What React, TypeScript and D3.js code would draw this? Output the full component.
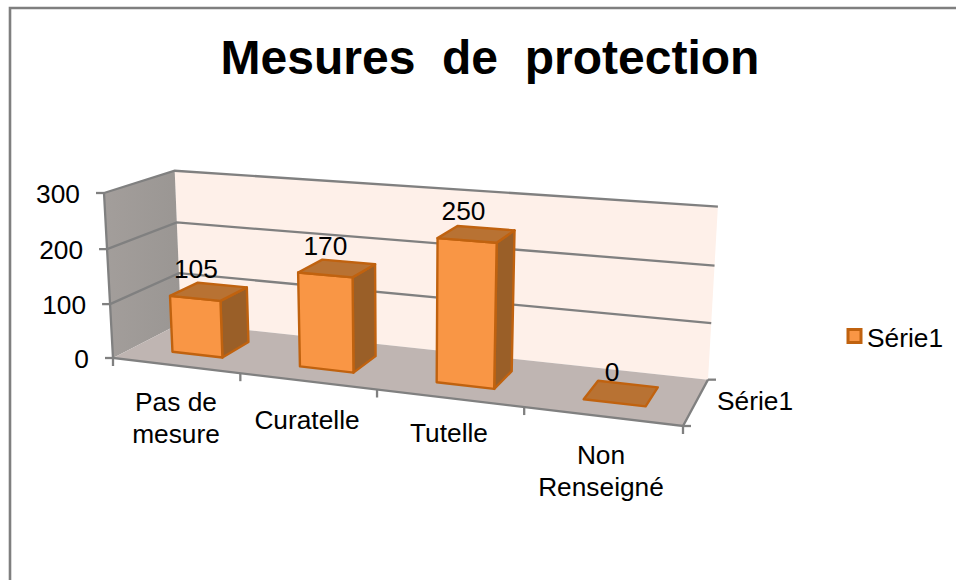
import React from "react";
import * as d3 from "d3";

const categories = [["Pas de", "mesure"], ["Curatelle"], ["Tutelle"], ["Non", "Renseigné"]];
const values = [105, 170, 250, 0];
const valueTicks = [0, 100, 200, 300];
const seriesName = "Série1";
const titleText = "Mesures  de  protection";

type P = [number, number];
const p0: P = [113, 358], p1: P = [683, 426], p3: P = [181, 323];
const backRightX = 708;
const G = -0.137, CW = -0.03;
const frontLeftTop: P = [104, 193];
const H_ = ((p1[0] - backRightX) * (1 + G) + p3[0] - p0[0]) / (backRightX - p3[0]);
const a = p1[0] * (1 + G) - p0[0], b = p3[0] * (1 + H_) - p0[0];
const d = p1[1] * (1 + G) - p0[1], e = p3[1] * (1 + H_) - p0[1];
const cx = frontLeftTop[0] * (1 + CW) - p0[0], cy = frontLeftTop[1] * (1 + CW) - p0[1];

const uScale = d3.scaleLinear().domain([0, 4]).range([0, 1]);
const vScale = d3.scaleLinear().domain([0, 300]).range([0, 1]);
function proj(cat: number, depth: number, val: number): P {
  const u = uScale(cat), t = vScale(val);
  const w = 1 + G * u + H_ * depth + CW * t;
  return [(p0[0] + a * u + b * depth + cx * t) / w, (p0[1] + d * u + e * depth + cy * t) / w];
}
const line = d3.line<P>();
const poly = (pts: P[]) => line(pts)! + "Z";

const GRID = "#808080";
const GW = 2.3;
const EDGE = "#C0620F";
const FONT = "'Liberation Sans', Arial, sans-serif";
const BAR_HALF = 0.2, D0 = 0.29, D1 = 0.71, BAR_SHIFT = 0.516;
const LABEL_NUDGE: P[] = [[-2, -5], [3, -5], [6, -6], [14, 0]];
const FS = 26.3;

export default function App() {
  return (
    <svg width={956} height={580} style={{ position: "absolute", left: 0, top: 0, background: "#fff" }} fontFamily={FONT}>
      <defs>
        <linearGradient id="wallL" x1="0" x2="1" y1="0" y2="0">
          <stop offset="0" stopColor="#A39E9B" />
          <stop offset="1" stopColor="#9A9693" />
        </linearGradient>
      </defs>
      <path d="M10,580V8H956" fill="none" stroke="#7F7F7F" strokeWidth={2.6} />
      <text x={490} y={74} fontSize={48} fontWeight="bold" textAnchor="middle" xmlSpace="preserve" style={{ whiteSpace: "pre" }}>{titleText}</text>

      <path d={poly([proj(0, 1, 0), proj(4, 1, 0), proj(4, 1, 300), proj(0, 1, 300)])} fill="#FEF0E9" />
      <path d={poly([proj(0, 0, 0), proj(0, 1, 0), proj(0, 1, 300), proj(0, 0, 300)])} fill="url(#wallL)" />
      <path d={poly([proj(0, 0, 0), proj(4, 0, 0), proj(4, 1, 0), proj(0, 1, 0)])} fill="#BFB5B2" />

      {valueTicks.filter((t) => t > 0).map((t) => (
        <path key={t} fill="none" stroke={GRID} strokeWidth={GW}
          d={line([proj(0, 0, t), proj(0, 1, t), proj(4, 1, t)])!} />
      ))}
      <path fill="none" stroke={GRID} strokeWidth={GW} d={line([proj(0, 0, 300), proj(0, 0, 0), proj(4, 0, 0), proj(4, 1, 0)])!} />
      {valueTicks.map((t) => {
        const p = proj(0, 0, t);
        return <path key={t} stroke={GRID} strokeWidth={GW} d={`M${p[0] - 8},${p[1]}H${p[0]}`} />;
      })}
      {d3.range(0, 5).map((i) => {
        const p = proj(i, 0, 0);
        return <path key={i} stroke={GRID} strokeWidth={GW} d={`M${p[0]},${p[1]}v8`} />;
      })}
      <path stroke={GRID} strokeWidth={GW} d={`M${proj(4, 1, 0)[0]},${proj(4, 1, 0)[1]}h8`} />
      <path stroke={GRID} strokeWidth={GW} d={`M${proj(4, 0, 0)[0]},${proj(4, 0, 0)[1]}h8`} />

      {values.map((v, i) => {
        const l = i + BAR_SHIFT - BAR_HALF, r = i + BAR_SHIFT + BAR_HALF;
        const flt = proj(l, D0, v), frt = proj(r, D0, v), flb = proj(l, D0, 0), frb = proj(r, D0, 0);
        const blt = proj(l, D1, v), brt = proj(r, D1, v), brb = proj(r, D1, 0);
        return (
          <g key={i} stroke={EDGE} strokeWidth={2.4} strokeLinejoin="round">
            {v > 0 && <path d={poly([frt, brt, brb, frb])} fill="#9A5F28" />}
            {v > 0 && <path d={poly([flt, frt, frb, flb])} fill="#F99645" />}
            <path d={poly([flt, frt, brt, blt])} fill="#B87233" />
          </g>
        );
      })}

      {values.map((v, i) => {
        const p = proj(i + BAR_SHIFT - BAR_HALF, D1, v);
        return <text key={i} x={p[0] + LABEL_NUDGE[i][0]} y={p[1] + LABEL_NUDGE[i][1]} fontSize={FS} textAnchor="middle">{v}</text>;
      })}

      {valueTicks.map((t) => {
        const p = proj(0, 0, t);
        return <text key={t} x={p[0] - 24} y={p[1] + 10} fontSize={FS} textAnchor="end">{t}</text>;
      })}
      {categories.map((c, i) => {
        const xs = [176, 307, 449, 601];
        const ys = [411, 429, 442, 464];
        return (
          <text key={i} x={xs[i]} fontSize={FS} textAnchor="middle">
            {c.map((s, j) => <tspan key={j} x={xs[i]} y={ys[i] + j * 31.5}>{s}</tspan>)}
          </text>
        );
      })}
      <text x={717} y={410} fontSize={FS}>{seriesName}</text>

      <rect x={848} y={329.5} width={13} height={13} fill="#F99645" stroke={EDGE} strokeWidth={3} />
      <text x={867} y={347} fontSize={FS}>{seriesName}</text>
    </svg>
  );
}
